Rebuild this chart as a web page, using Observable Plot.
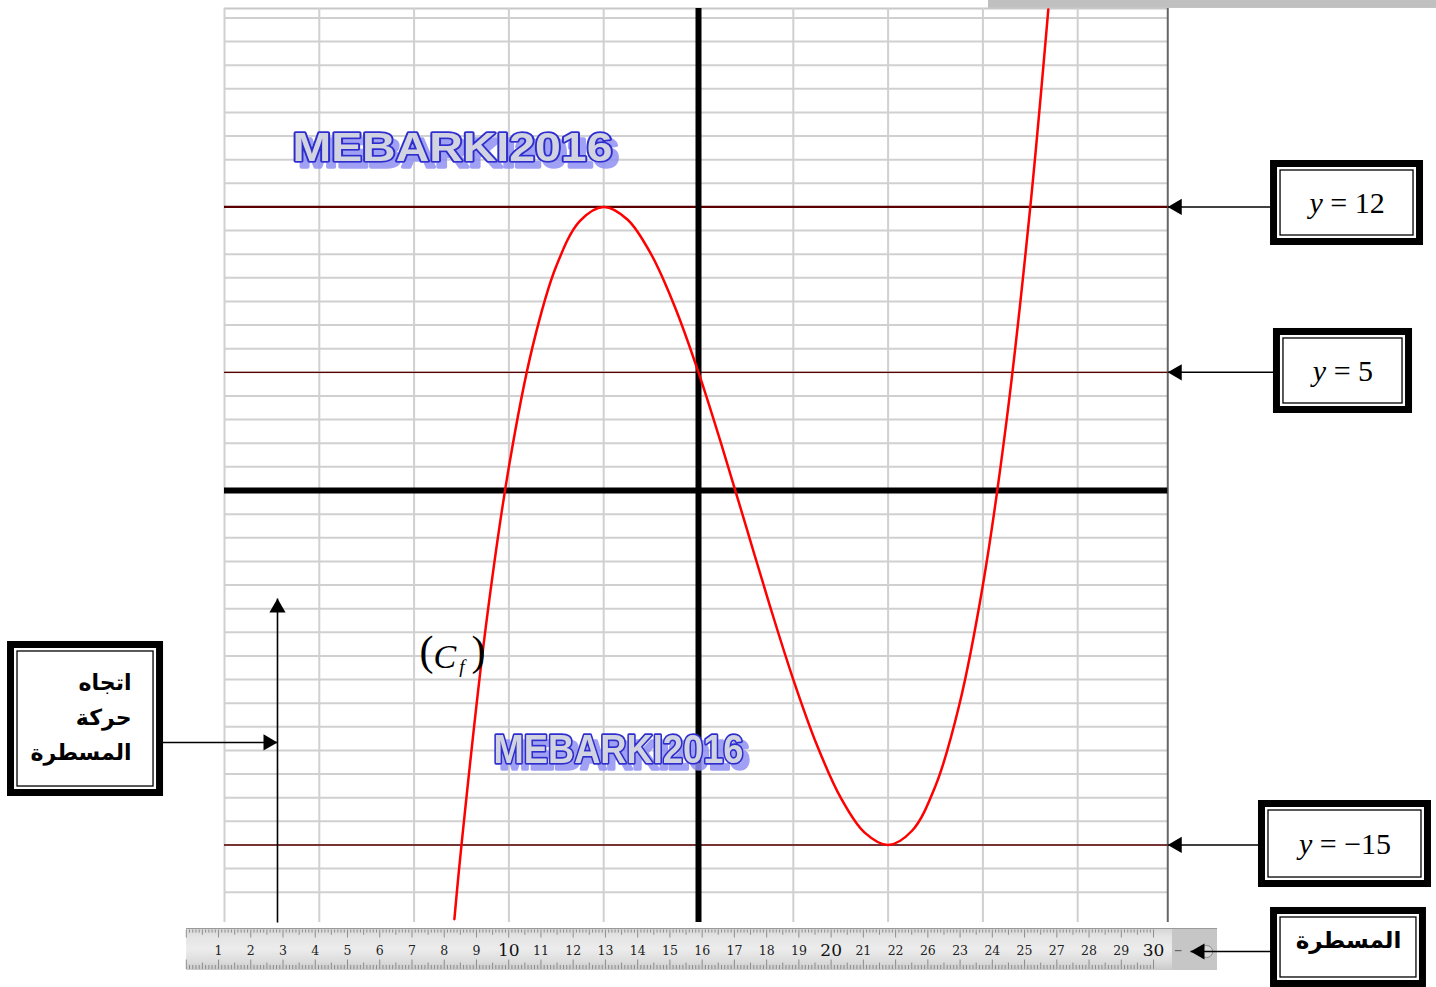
<!DOCTYPE html>
<html>
<head>
<meta charset="utf-8">
<script src="https://cdn.jsdelivr.net/npm/d3@7"></script>
<script src="https://cdn.jsdelivr.net/npm/@observablehq/plot@0.6"></script>
<style>
  html, body { margin: 0; padding: 0; background: #fff; overflow: hidden; }
  #chart svg { display: block; }
</style>
</head>
<body>
<div id="chart"></div>
<script>
// Points along the curve (C_f)
const curveX = [-2.575, -2.5, -2.25, -2, -1.75, -1.5, -1.25, -1, -0.75, -0.5, -0.25, 0,
                0.25, 0.5, 0.75, 1, 1.25, 1.5, 1.75, 2, 2.25, 2.5, 2.75, 3, 3.25, 3.5, 3.69];
const curveY = [-18.14, -15, -5.97, 1, 6.09, 9.5, 11.41, 12, 11.47, 10, 7.78, 5,
                1.84, -1.5, -4.84, -8, -10.78, -13, -14.47, -15, -14.41, -12.5, -9.09, -4, 2.97, 12, 20.36];

// Horizontal lines y = k and their labels
const levelValues = [12, 5, -15];
const levelLabels = ["y = 12", "y = 5", "y = −15"];

// Graph paper
const gridXs = [-5, -4, -3, -2, -1, 0, 1, 2, 3, 4];
const gridYs = d3.range(-17, 21);

// Ruler numbering
const rulerLabels = ["1", "2", "3", "4", "5", "6", "7", "8", "9", "10",
                     "11", "12", "13", "14", "15", "16", "17", "18", "19", "20",
                     "21", "22", "26", "23", "24", "25", "27", "28", "29", "30"];

// Texts
const watermark = "MEBARKI2016";
const curveName = "(Cf)";
const rulerCaption = "المسطرة";
const moveCaption = "اتجاه\nحركة\nالمسطرة";

// ---- layout (chart units) ----
const X_LEFT = -5, X_RIGHT = 4.95, Y_TOP = 20.4, Y_BOTTOM = -18.28;

const levelBoxes = [
  {x1: 6.071, x2: 7.611, y1: 13.817, y2: 10.516},
  {x1: 6.102, x2: 7.495, y1: 6.708, y2: 3.407},
  {x1: 5.944, x2: 7.695, y1: -13.267, y2: -16.653}
];
const rulerBox = {x1: 6.071, x2: 7.642, y1: -17.795, y2: -20.884};
const moveBox = {x1: -7.252, x2: -5.68, y1: -6.538, y2: -12.802};
const boxes = [...levelBoxes, rulerBox, moveBox];

const rulerArrowY = -19.51, rulerArrowTip = 5.19;
const moveArrowY = -10.66, moveArrowX = -4.441, moveArrowTop = -4.57;

const wmPlaces = [
  {x: -4.283, y: 13.923, length: 320},
  {x: -2.162, y: -11.553, length: 250}
];

// ruler geometry
const rulerLeft = -5.40, rulerScaleEnd = 5.0, rulerRight = 5.475;
const rulerTop = -18.536, rulerBottom = -20.313;
const rx = cm => -5.403 + 0.3401 * cm;
const mm = d3.range(0, 301);
const topLen = d => d % 10 === 0 ? 0.34 : d % 5 === 0 ? 0.22 : 0.13;
const botLen = d => d % 10 === 0 ? 0.40 : d % 5 === 0 ? 0.27 : 0.17;

const curve = curveX.map((x, i) => ({x, y: curveY[i]}));
const cx = b => (b.x1 + b.x2) / 2;
const cy = b => (b.y1 + b.y2) / 2;

const serif = "Liberation Serif, Times New Roman, serif";
const arabic = "DejaVu Sans, Noto Sans, sans-serif";

const plot = Plot.plot({
  width: 1436,
  height: 987,
  margin: 0,
  x: {type: "linear", domain: [-698 / 94.8, 738 / 94.8], axis: null},
  y: {type: "linear", domain: [-497 / 23.63, 490 / 23.63], axis: null},
  style: {background: "#fff", overflow: "visible"},
  marks: [
    // grey strip at the top right
    Plot.rect([0], {x1: 3.059, x2: 7.79, y1: Y_TOP, y2: 20.74, fill: "#c0c0c0"}),

    // graph paper
    Plot.ruleY(gridYs, {x1: X_LEFT, x2: X_RIGHT, stroke: "#d0d0d0", strokeWidth: 2}),
    Plot.ruleY([Y_TOP], {x1: X_LEFT, x2: X_RIGHT, stroke: "#c8c8c8", strokeWidth: 2}),
    Plot.ruleX(gridXs, {y1: Y_BOTTOM, y2: Y_TOP, stroke: "#d0d0d0", strokeWidth: 2}),
    Plot.ruleX([X_RIGHT], {y1: Y_BOTTOM, y2: Y_TOP, stroke: "#666", strokeWidth: 2}),

    // lines y = k
    Plot.ruleY(levelValues, {x1: X_LEFT, x2: X_RIGHT, stroke: "#5a0000",
      strokeWidth: d => d === 12 ? 2.2 : 1.4}),

    // axes
    Plot.ruleY([0], {x1: X_LEFT, x2: X_RIGHT, stroke: "#000", strokeWidth: 6}),
    Plot.ruleX([0], {y1: Y_BOTTOM, y2: Y_TOP, stroke: "#000", strokeWidth: 6}),

    // watermarks (drop shadow added below)
    Plot.text(wmPlaces, {x: "x", y: "y", text: () => watermark, textAnchor: "start",
      lineAnchor: "bottom", fontSize: 40, fontWeight: 900, fontFamily: "Liberation Sans, Arial, sans-serif",
      fill: "#d2d3e0", stroke: "#2f2fcf", strokeWidth: 3.5}),

    // the curve
    Plot.line(curve, {x: "x", y: "y", stroke: "#ff0000", strokeWidth: 2.5, curve: "catmull-rom"}),

    // curve name (C_f)
    Plot.text([curveName], {x: -2.943, y: -7.364, text: d => d, textAnchor: "start", lineAnchor: "bottom",
      fontSize: 42, fontFamily: serif, fill: "#000"}),

    // direction of the ruler: vertical arrow
    Plot.link([0], {x1: moveArrowX, x2: moveArrowX, y1: Y_BOTTOM, y2: moveArrowTop, stroke: "#000", strokeWidth: 1.6}),
    Plot.dot([0], {x: moveArrowX, y: moveArrowTop, dy: 9.3, symbol: "triangle", r: 6, fill: "#000"}),

    // ruler
    Plot.rect([0], {x1: rulerLeft, x2: rulerScaleEnd, y1: rulerTop, y2: rulerBottom, fill: "url(#rulerGrad)"}),
    Plot.rect([0], {x1: rulerScaleEnd, x2: rulerRight, y1: rulerTop, y2: rulerBottom, fill: "#c6c6c6"}),
    Plot.ruleY([rulerTop], {x1: rulerLeft, x2: rulerRight, stroke: "#9a9a9a", strokeWidth: 1.2}),
    Plot.ruleX(mm, {x: d => rx(d / 10), y1: -18.60, y2: d => -18.60 - topLen(d), stroke: "#7a7a7a", strokeWidth: 0.8}),
    Plot.ruleX(mm, {x: d => rx(d / 10), y1: -20.27, y2: d => -20.27 + botLen(d), stroke: "#7a7a7a", strokeWidth: 0.8}),
    Plot.text(rulerLabels.filter(d => d.length < 2 || d[1] !== "0"), {
      x: d => rx(rulerLabels.indexOf(d) + 1), y: -19.47, text: d => d,
      fontSize: 12.5, fontFamily: "DejaVu Serif, serif", fill: "#222"}),
    Plot.text(rulerLabels.filter(d => d.length === 2 && d[1] === "0"), {
      x: d => rx(rulerLabels.indexOf(d) + 1), y: -19.47, text: d => d,
      fontSize: 17, fontFamily: "DejaVu Serif, serif", fill: "#111"}),
    Plot.ruleY([-19.47], {x1: 5.03, x2: 5.10, stroke: "#666", strokeWidth: 1.2}),
    Plot.dot([0], {x: 5.36, y: -19.51, r: 6, fill: "#d8d8d8", stroke: "#888", strokeWidth: 1}),

    // boxes with a double border
    Plot.rect(boxes, {x1: "x1", x2: "x2", y1: "y1", y2: "y2", fill: "#fff", stroke: "#000", strokeWidth: 7}),
    Plot.rect(boxes, {x1: "x1", x2: "x2", y1: "y1", y2: "y2", fill: "none", stroke: "#000", strokeWidth: 1.3, inset: 6.5}),

    // arrows from the boxes
    Plot.link(levelValues, {x1: (d, i) => levelBoxes[i].x1, x2: X_RIGHT, y1: d => d, y2: d => d, stroke: "#000", strokeWidth: 1.5}),
    Plot.dot(levelValues, {x: X_RIGHT, y: d => d, dx: 9.3, symbol: "triangle", rotate: -90, r: 6, fill: "#000"}),
    Plot.link([0], {x1: rulerBox.x1, x2: rulerArrowTip, y1: rulerArrowY, y2: rulerArrowY, stroke: "#000", strokeWidth: 1.5}),
    Plot.dot([0], {x: rulerArrowTip, y: rulerArrowY, dx: 9.3, symbol: "triangle", rotate: -90, r: 6, fill: "#000"}),
    Plot.link([0], {x1: moveBox.x2, x2: moveArrowX, y1: moveArrowY, y2: moveArrowY, stroke: "#000", strokeWidth: 1.5}),
    Plot.dot([0], {x: moveArrowX, y: moveArrowY, dx: -9.3, symbol: "triangle", rotate: 90, r: 6, fill: "#000"}),

    // box texts
    Plot.text(levelLabels, {x: (d, i) => cx(levelBoxes[i]), y: (d, i) => cy(levelBoxes[i]), text: d => d,
      fontSize: 30, fontFamily: serif, fill: "#000"}),
    Plot.text([rulerCaption], {x: cx(rulerBox), y: -19.05, text: d => d,
      fontSize: 23, fontWeight: "bold", fontFamily: arabic, fill: "#000"}),
    Plot.text([moveCaption], {x: -5.981, y: -9.45, text: d => d, textAnchor: "end", lineHeight: 1.6,
      fontSize: 22, fontWeight: "bold", fontFamily: arabic, fill: "#000"})
  ]
});

const svg = d3.select(plot);
const defs = svg.insert("defs", ":first-child");

// gradient of the ruler body
const grad = defs.append("linearGradient")
  .attr("id", "rulerGrad").attr("x1", 0).attr("y1", 0).attr("x2", 0).attr("y2", 1);
[[0, "#d4d4d4"], [0.2, "#e4e4e4"], [0.5, "#ececec"], [0.8, "#dcdcdc"], [1, "#cacaca"]]
  .forEach(([o, c]) => grad.append("stop").attr("offset", o).attr("stop-color", c));

// light blue drop shadow of the watermark
const shadow = defs.append("filter").attr("id", "wmShadow")
  .attr("x", "-5%").attr("y", "-30%").attr("width", "115%").attr("height", "170%");
shadow.append("feOffset").attr("in", "SourceAlpha").attr("dx", 6).attr("dy", 6).attr("result", "off");
shadow.append("feFlood").attr("flood-color", "#8f8ff2").attr("flood-opacity", 0.85);
shadow.append("feComposite").attr("in2", "off").attr("operator", "in").attr("result", "sh");
const merge = shadow.append("feMerge");
merge.append("feMergeNode").attr("in", "sh");
merge.append("feMergeNode").attr("in", "SourceGraphic");

// italic variable name in the y = k labels
svg.selectAll("text").filter(function () { return /^y = /.test(this.textContent); })
  .each(function () {
    const s = this.textContent;
    const t = d3.select(this).text(null);
    t.append("tspan").attr("font-style", "italic").text("y");
    t.append("tspan").text(s.slice(1));
  });

// (C_f): italic C with subscript f
svg.selectAll("text").filter(function () { return this.textContent === curveName; })
  .each(function () {
    const t = d3.select(this).text(null);
    t.append("tspan").text("(");
    t.append("tspan").attr("dy", 3).attr("font-size", 34).attr("font-style", "italic").text("C");
    t.append("tspan").attr("dx", 3).attr("dy", 5).attr("font-size", 19).attr("font-style", "italic").text("f");
    t.append("tspan").attr("dx", 7).attr("dy", -8).text(")");
  });

// watermark: stretched to its width, with shadow
svg.selectAll("text").filter(function () { return this.textContent === watermark; })
  .each(function (d, i) {
    d3.select(this).attr("textLength", wmPlaces[i % 2].length).attr("lengthAdjust", "spacingAndGlyphs")
      .attr("filter", "url(#wmShadow)");
  });

document.getElementById("chart").append(plot);
</script>
</body>
</html>
